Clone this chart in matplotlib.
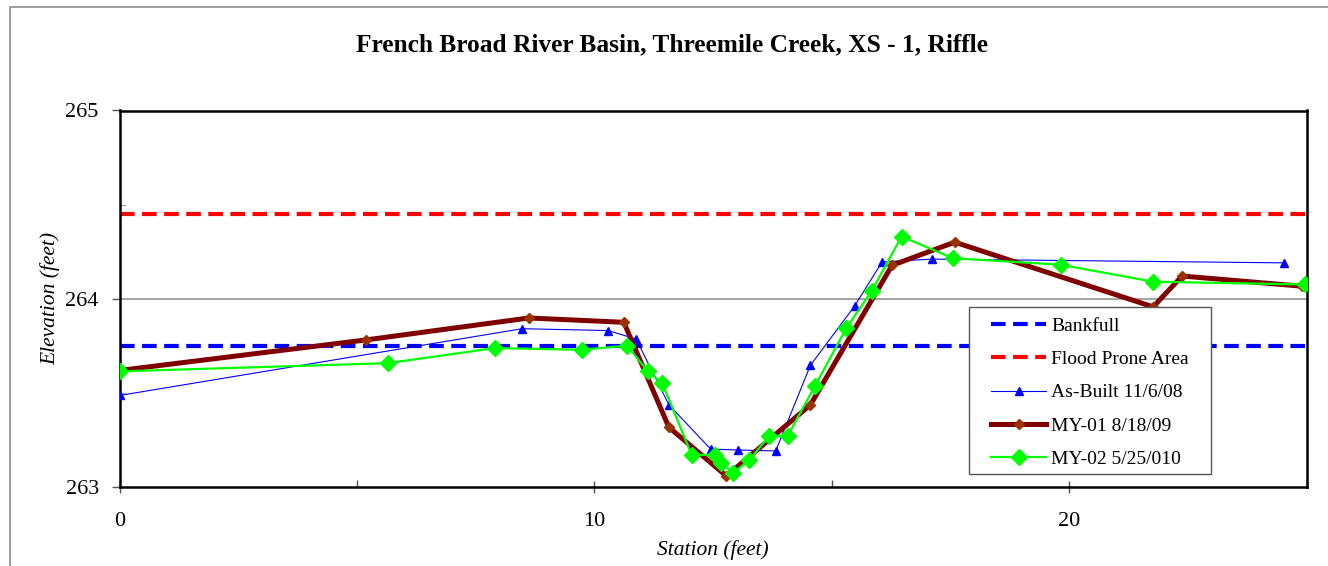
import numpy as np, matplotlib.pyplot as plt
from matplotlib.patches import Rectangle

# cross-section survey data (station, elevation)
asbuilt_x = [0.0, 8.48, 10.29, 10.88, 11.57, 12.45, 13.03, 13.82, 14.55, 15.48, 16.06, 17.11, 24.53]
asbuilt_y = [263.485, 263.84, 263.83, 263.785, 263.435, 263.20, 263.195, 263.19, 263.645, 263.96, 264.195, 264.21, 264.19]

my01_x = [0.0, 5.18, 8.62, 10.62, 11.57, 12.78, 14.55, 16.27, 17.59, 21.77, 22.38, 24.9]
my01_y = [263.618, 263.78, 263.897, 263.874, 263.316, 263.057, 263.435, 264.177, 264.30, 263.956, 264.12, 264.066]

my02_x = [0.0, 5.66, 7.90, 9.74, 10.69, 11.12, 11.43, 12.05, 12.54, 12.66, 12.93, 13.26, 13.68,
          14.07, 14.65, 15.31, 15.84, 16.47, 17.55, 19.82, 21.77, 24.97]
my02_y = [263.613, 263.657, 263.737, 263.728, 263.75, 263.615, 263.55, 263.169, 263.169, 263.125, 263.075, 263.14, 263.27,
          263.27, 263.537, 263.844, 264.04, 264.33, 264.215, 264.18, 264.09, 264.075]

bankfull = 263.75
flood_prone = 264.45

x_ticks = [0, 10, 20]
y_ticks = [263, 264, 265]

plt.rcParams['font.family'] = ['Liberation Serif', 'DejaVu Serif']

W, H = 1328, 566
fig = plt.figure(figsize=(W/100, H/100), dpi=100)
ax_l, ax_r, ax_t, ax_b = 119.6, 1306.5, 110.5, 486.7
ax = fig.add_axes([ax_l/W, 1 - ax_b/H, (ax_r-ax_l)/W, (ax_b-ax_t)/H])

# frame of the chart area (only left and top edges show in the crop)
fig.patches.append(Rectangle((10/W, -0.1), 1.2, 1 - 7/H + 0.1, transform=fig.transFigure,
                             fill=False, edgecolor='#8c8c8c', lw=1.2))

ax.axhline(264, color='#8c8c8c', lw=1.1, zorder=1)

ax.plot([0, 25], [bankfull, bankfull], color='#0000ff', lw=3, ls=(0, (3.5, 1.8)), label='Bankfull', zorder=2)
ax.plot([0, 25], [flood_prone, flood_prone], color='#ff0000', lw=3, ls=(0, (3.5, 1.8)), label='Flood Prone Area', zorder=2)
ax.plot(asbuilt_x, asbuilt_y, color='#0000ff', lw=0.8, marker='^', ms=6, mec='#0000ff', mfc='#0000ff',
        label='As-Built 11/6/08', zorder=3)
ax.plot(my01_x, my01_y, color='#800000', lw=3.6, marker='D', ms=5, mfc='#993300', mec='#993300',
        label='MY-01 8/18/09', zorder=4)
ax.plot(my02_x, my02_y, color='#00ff00', lw=1.6, marker='D', ms=8.5, mfc='#00ff00', mec='#00ff00',
        label='MY-02 5/25/010', zorder=5)

ax.set_xlim(0, 25)
ax.set_ylim(263, 265)
ax.set_xticks(x_ticks)
ax.set_yticks(y_ticks)
ax.set_xticks([5, 15, 25], minor=True)
ax.set_yticks([263.5, 264.5], minor=True)
ax.tick_params(axis='x', which='major', direction='inout', length=9, width=1, color='#555555', labelsize=16, pad=14)
ax.tick_params(axis='x', which='minor', direction='in', length=5, width=1, color='#555555')
ax.tick_params(axis='y', which='major', direction='out', length=6, width=1, color='#555555', labelsize=16, pad=9)
ax.tick_params(axis='y', which='minor', direction='in', length=4, width=1, color='#aaaaaa')
for s in ax.spines.values():
    s.set_linewidth(1.8)
    s.set_color('black')

ax.set_xlabel('Station (feet)', fontsize=15.5, style='italic', labelpad=6)
ax.set_ylabel('Elevation (feet)', fontsize=15.5, style='italic', labelpad=4)
fig.text(672/W, 1 - 45/H, 'French Broad River Basin, Threemile Creek, XS - 1, Riffle',
         fontsize=18.3, fontweight='bold', ha='center', va='center')

# legend box drawn separately so its padding can match the original
lg_l, lg_r, lg_t, lg_b = 969.4, 1211, 307.3, 474
ax.add_patch(Rectangle((lg_l/W, 1 - lg_b/H), (lg_r-lg_l)/W, (lg_b-lg_t)/H, transform=fig.transFigure,
                       facecolor='white', edgecolor='#555555', lw=1, zorder=6, clip_on=False))
leg = ax.legend(loc='upper left', bbox_to_anchor=(991/W, 1 - 317.5/H), bbox_transform=fig.transFigure,
                fontsize=14, frameon=False, borderpad=0, labelspacing=0.8,
                handlelength=2.85, handletextpad=0.25, borderaxespad=0)
leg.set_zorder(7)

fig.savefig('out.png', dpi=100)
